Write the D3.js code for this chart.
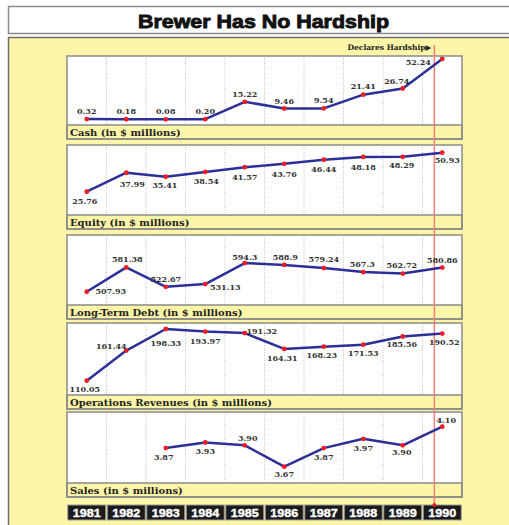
<!DOCTYPE html>
<html>
<head>
<meta charset="utf-8">
<script src="https://cdn.jsdelivr.net/npm/d3@7"></script>
<style>
  html, body { margin: 0; padding: 0; background: #fff; }
  svg { display: block; }
</style>
</head>
<body>
<script>
// chart data
const years = [1981, 1982, 1983, 1984, 1985, 1986, 1987, 1988, 1989, 1990];
const cash = [0.32, 0.18, 0.08, 0.20, 15.22, 9.46, 9.54, 21.41, 26.74, 52.24];
const equity = [25.76, 37.99, 35.41, 38.54, 41.57, 43.76, 46.44, 48.18, 48.29, 50.93];
const longTermDebt = [507.93, 581.38, 522.67, 531.13, 594.3, 588.9, 579.24, 567.3, 562.72, 580.86];
const opsRevenues = [110.05, 161.44, 198.33, 193.97, 191.32, 164.31, 168.23, 171.53, 185.56, 190.52];
const sales = [null, null, 3.87, 3.93, 3.90, 3.67, 3.87, 3.97, 3.90, 4.10];
const panelTitles = [
    "Cash (in $ millions)",
    "Equity (in $ millions)",
    "Long-Term Debt (in $ millions)",
    "Operations Revenues (in $ millions)",
    "Sales (in $ millions)"
];
const yDomains = [[-4.8, 54.8], [10.7, 55.9], [468, 679], [85.6, 208.6], [3.495, 4.258]];
const hardshipYear = 1990;

// label placement (dx, dy from the point)
const labelOffsets = [
    [[0,-5],[0,-5],[0,-5],[0,-5],[0,-4.5],[0,-4.6],[0,-5],[0,-5.5],[-6,-4.6],[-24,6]],
    [[-2,12],[6,14],[-1,11.7],[1,12],[0,13],[0,12.7],[0,12.7],[0,12.7],[-1,11.5],[5,10.7]],
    [[24,2],[1,-5.3],[0,-5.3],[20,6.4],[0,-3.5],[1,-5.3],[0,-5.6],[-1,-5.3],[-1,-5.3],[0,-4.6]],
    [[-2,11],[-15,-1.3],[0,17],[0,12.7],[17,1.1],[-2,12],[-2,11],[0,11],[-1,11],[2,11.4]],
    [null,null,[-2,12.3],[0,11.7],[3,-4],[0,10.4],[0,12.3],[0,12],[-1,9.4],[4,-4]]
];

const width = 509, height = 525;
const yellow = "#fdf6a8";
const border = "#8a8a88";
const tops = [56, 145, 235, 323, 412];
const bottoms = [125, 215, 305, 395, 483];
const stripH = 14;

const fmt2 = d => d.toFixed(2);
const formats = [fmt2, fmt2, d => String(d), fmt2, fmt2];
const seriesList = [cash, equity, longTermDebt, opsRevenues, sales];

const svg = d3.select("body").append("svg")
    .attr("width", width)
    .attr("height", height);

// title box
svg.append("rect")
    .attr("x", 8.5).attr("y", 6.5)
    .attr("width", 520).attr("height", 27)
    .attr("fill", "#fff")
    .attr("stroke", border)
    .attr("stroke-width", 1.5);

svg.append("text")
    .attr("x", 138).attr("y", 27.5)
    .attr("textLength", 251)
    .attr("lengthAdjust", "spacingAndGlyphs")
    .style("font", "bold 19px 'Liberation Sans', Arial, sans-serif")
    .attr("fill", "#111")
    .attr("stroke", "#111")
    .attr("stroke-width", 0.9)
    .text("Brewer Has No Hardship");

// yellow background
svg.append("rect")
    .attr("x", 8.5).attr("y", 37.5)
    .attr("width", 520).attr("height", 500)
    .attr("fill", yellow)
    .attr("stroke", "#6f6f6a")
    .attr("stroke-width", 1.5);

const x = d3.scaleBand()
    .domain(years)
    .range([67, 462])
    .paddingInner(0);

const hardX = x(hardshipYear) + x.bandwidth() * 0.3;

panelTitles.forEach((title, p) => {
    const top = tops[p], bottom = bottoms[p];
    const g = svg.append("g").attr("class", "panel");

    // plot area
    g.append("rect")
        .attr("x", 67).attr("y", top)
        .attr("width", 395).attr("height", bottom - top)
        .attr("fill", "#fff");

    // dotted separators between years
    g.selectAll("line.grid")
        .data(years.slice(1))
        .enter()
        .append("line")
        .attr("class", "grid")
        .attr("x1", d => x(d)).attr("x2", d => x(d))
        .attr("y1", top + 2).attr("y2", bottom - 1)
        .attr("stroke", "#bdbdbd")
        .attr("stroke-width", 1)
        .attr("stroke-dasharray", "1,1.5");

    // label strip
    g.append("rect")
        .attr("x", 67).attr("y", bottom)
        .attr("width", 395).attr("height", stripH)
        .attr("fill", yellow)
        .attr("stroke", border)
        .attr("stroke-width", 1.5);

    g.append("rect")
        .attr("x", 67).attr("y", top)
        .attr("width", 395).attr("height", bottom - top + stripH)
        .attr("fill", "none")
        .attr("stroke", border)
        .attr("stroke-width", 1.5);

    g.append("text")
        .attr("x", 70).attr("y", bottom + 11)
        .style("font", "bold 10px 'DejaVu Serif', serif")
        .attr("fill", "#222")
        .text(title);
});

// hardship marker
svg.append("line")
    .attr("x1", hardX).attr("x2", hardX)
    .attr("y1", 45).attr("y2", 505)
    .attr("stroke", "#f2807a")
    .attr("stroke-width", 1.5);

svg.append("text")
    .attr("x", hardX - 3).attr("y", 50)
    .attr("text-anchor", "end")
    .style("font", "bold 7.5px 'DejaVu Serif', serif")
    .attr("fill", "#222")
    .text("Declares Hardship\u25B6");

// lines, points, labels
seriesList.forEach((series, p) => {
    const y = d3.scaleLinear().domain(yDomains[p]).range([bottoms[p], tops[p]]);
    const pts = years.map((yr, i) => ({ yr, v: series[i], off: labelOffsets[p][i] }))
        .filter(d => d.v !== null);
    const cx = d => x(d.yr) + x.bandwidth() / 2;

    const line = d3.line()
        .x(cx)
        .y(d => y(d.v));

    svg.append("path")
        .datum(pts)
        .attr("d", line)
        .attr("fill", "none")
        .attr("stroke", "#2b2f98")
        .attr("stroke-width", 2.5)
        .attr("stroke-linejoin", "round");

    svg.selectAll(null)
        .data(pts)
        .enter()
        .append("circle")
        .attr("cx", cx)
        .attr("cy", d => y(d.v))
        .attr("r", 2.4)
        .attr("fill", "#ee1c24");

    svg.selectAll(null)
        .data(pts)
        .enter()
        .append("text")
        .attr("x", d => cx(d) + d.off[0])
        .attr("y", d => y(d.v) + d.off[1])
        .attr("text-anchor", "middle")
        .style("font", "bold 8px 'DejaVu Serif', serif")
        .attr("fill", "#333")
        .text(d => formats[p](d.v));
});

// year boxes
const yearBox = svg.selectAll("g.year")
    .data(years)
    .enter()
    .append("g")
    .attr("class", "year");

yearBox.append("rect")
    .attr("x", d => x(d) + 0.75)
    .attr("y", 505)
    .attr("width", x.bandwidth() - 1.5)
    .attr("height", 15)
    .attr("fill", "#1b1b1b")
    .attr("stroke", "#9a9a9a")
    .attr("stroke-width", 1);

yearBox.append("text")
    .attr("x", d => x(d) + x.bandwidth() / 2 - 14)
    .attr("y", 517)
    .attr("textLength", 28)
    .attr("lengthAdjust", "spacingAndGlyphs")
    .style("font", "bold 11.5px 'Liberation Sans', Arial, sans-serif")
    .attr("fill", "#fff")
    .attr("stroke", "#fff")
    .attr("stroke-width", 0.4)
    .text(d => d);

svg.append("circle")
    .attr("cx", hardX).attr("cy", 505)
    .attr("r", 2)
    .attr("fill", "#ee1c24");
</script>
</body>
</html>
